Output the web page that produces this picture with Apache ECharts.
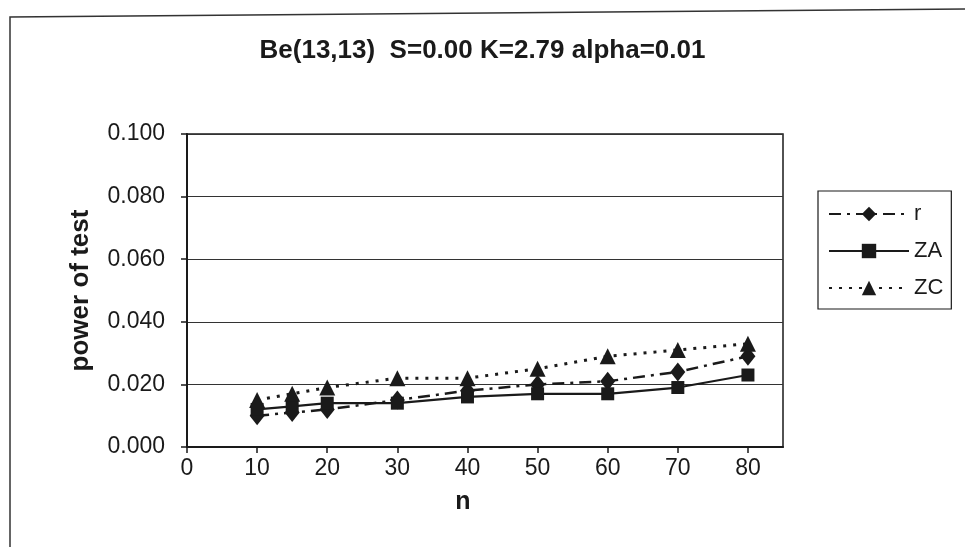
<!DOCTYPE html>
<html>
<head>
<meta charset="utf-8">
<script src="https://cdn.jsdelivr.net/npm/echarts@6/dist/echarts.min.js"></script>
<style>
  html, body { margin: 0; padding: 0; background: #ffffff; }
  #chart { width: 965px; height: 547px; }
</style>
</head>
<body>
<div id="chart"></div>
<script>
// Sample sizes and power of each test
const nValues = [10, 15, 20, 30, 40, 50, 60, 70, 80];
const rPower  = [0.010, 0.011, 0.012, 0.015, 0.018, 0.020, 0.021, 0.024, 0.029];
const zaPower = [0.012, 0.013, 0.014, 0.014, 0.016, 0.017, 0.017, 0.019, 0.023];
const zcPower = [0.015, 0.017, 0.019, 0.022, 0.022, 0.025, 0.029, 0.031, 0.033];
const xTicks = [0, 10, 20, 30, 40, 50, 60, 70, 80];

const pairs = (ys) => nValues.map((n, i) => [n, ys[i]]);
const ink = '#1a1a1a';
const FONT = '"Liberation Sans", Arial, sans-serif';

const chart = echarts.init(document.getElementById('chart'), null, { renderer: 'canvas' });

chart.setOption({
  backgroundColor: '#ffffff',
  animation: false,
  textStyle: { fontFamily: FONT, color: ink },
  title: {
    text: 'Be(13,13)  S=0.00 K=2.79 alpha=0.01',
    left: 'center',
    top: 33,
    padding: [5, 0, 5, 26],
    textStyle: { fontFamily: FONT, fontSize: 26, fontWeight: 'bold', color: ink }
  },
  graphic: [{
    type: 'polyline',
    shape: { points: [[10, 547], [10, 17], [965, 9]] },
    style: { stroke: '#333', lineWidth: 1.5, fill: null },
    silent: true
  }],
  legend: {
    orient: 'vertical',
    left: 818,
    top: 191,
    padding: [12, 8, 10, 10],
    itemGap: 15,
    itemWidth: 80,
    itemHeight: 18,
    borderColor: ink,
    borderWidth: 1.2,
    textStyle: { fontFamily: FONT, fontSize: 22, color: ink },
    data: ['r', 'ZA', 'ZC']
  },
  grid: {
    left: 187,
    right: 182,
    top: 134,
    bottom: 100,
    show: true,
    borderColor: ink,
    borderWidth: 1.5,
    containLabel: false,
    outerBoundsMode: 'none'
  },
  xAxis: {
    type: 'value',
    min: 0,
    max: 85,
    interval: 10,
    name: 'n',
    nameLocation: 'middle',
    nameGap: 43,
    nameTextStyle: { fontFamily: FONT, fontSize: 25, fontWeight: 'bold', color: ink, padding: [0, 44, 0, 0] },
    axisLine: { lineStyle: { color: ink, width: 2 } },
    axisTick: { show: true, inside: false, length: 6, lineStyle: { color: ink, width: 1.5 }, customValues: xTicks },
    axisLabel: { fontFamily: FONT, fontSize: 23, color: ink, margin: 10, customValues: xTicks },
    splitLine: { show: false }
  },
  yAxis: {
    type: 'value',
    min: 0,
    max: 0.1,
    interval: 0.02,
    name: 'power of test',
    nameLocation: 'middle',
    nameRotate: 90,
    nameGap: 93,
    nameTextStyle: { fontFamily: FONT, fontSize: 26, fontWeight: 'bold', color: ink },
    axisLine: { lineStyle: { color: ink, width: 2 } },
    axisTick: { show: true, inside: false, length: 6, lineStyle: { color: ink, width: 1.5 } },
    axisLabel: { fontFamily: FONT, fontSize: 23, color: ink, margin: 22, formatter: (v) => v.toFixed(3) },
    splitLine: { show: true, lineStyle: { color: '#333', width: 1 } }
  },
  series: [
    {
      name: 'r',
      type: 'line',
      data: pairs(rPower),
      symbol: 'diamond',
      symbolSize: [15, 19],
      itemStyle: { color: ink },
      lineStyle: { color: ink, width: 2.5, type: [12, 6, 3, 6] }
    },
    {
      name: 'ZA',
      type: 'line',
      data: pairs(zaPower),
      symbol: 'rect',
      symbolSize: 13,
      itemStyle: { color: ink },
      lineStyle: { color: ink, width: 2.2, type: 'solid' }
    },
    {
      name: 'ZC',
      type: 'line',
      data: pairs(zcPower),
      symbol: 'triangle',
      symbolSize: [16, 16],
      itemStyle: { color: ink },
      lineStyle: { color: ink, width: 3, type: [3, 7] }
    }
  ]
});
</script>
</body>
</html>
